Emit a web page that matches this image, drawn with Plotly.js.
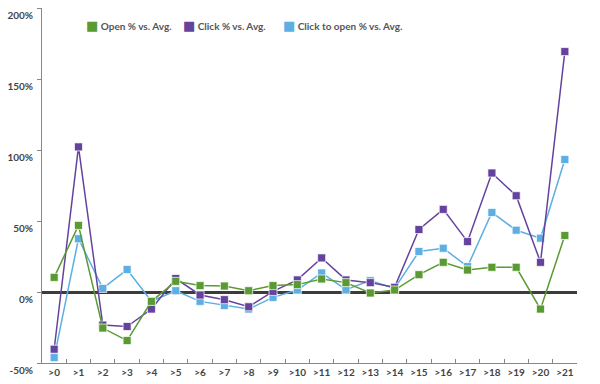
<!DOCTYPE html>
<html>
<head>
<meta charset="utf-8">
<script src="https://cdn.plot.ly/plotly-3.0.1.min.js"></script>
<style>html,body{margin:0;padding:0;background:#fff;}#chart{width:600px;height:384px;}</style>
</head>
<body>
<div id="chart"></div>
<script>
var categories = [">0",">1",">2",">3",">4",">5",">6",">7",">8",">9",">10",">11",">12",">13",">14",">15",">16",">17",">18",">19",">20",">21"];
var openVsAvg = [10.3,46.9,-25.4,-34.2,-6.6,7.5,4.5,4.2,0.9,4.5,5.2,9.2,6.6,-0.7,1.4,12.2,20.9,15.5,17.4,17.4,-12,39.8];
var clickVsAvg = [-40.3,102.2,-23.3,-24.3,-12,9.5,-2.1,-5.4,-10.4,0.4,8.5,24,8.5,6.6,3.3,44,58.2,35.5,83.8,67.8,20.9,169.3];
var ctoVsAvg = [-46.2,37.5,2.5,15.8,-6.5,0.9,-6.6,-9.5,-12,-3.8,1.4,13.4,1.6,8,2.5,28.5,30.8,17.9,56,43.5,37.9,93.3];
var seriesNames = ["Open % vs. Avg.","Click % vs. Avg.","Click to open % vs. Avg."];
var yTickVals = [-50,0,50,100,150,200];
var yTickText = ["-50%","0%","50%","100%","150%","200%"];
var colors = ["#5a9a32","#64439e","#5daee2"];

function lineTrace(y, i){
  return {x: categories, y: y, type:'scatter', mode:'lines+markers', name: seriesNames[i], showlegend:false,
    line:{color:colors[i], width:1.5},
    marker:{symbol:'square', size:8, color:colors[i], line:{color:'rgba(255,255,255,0.7)', width:1}}};
}
var data = [lineTrace(ctoVsAvg,2), lineTrace(clickVsAvg,1), lineTrace(openVsAvg,0)];
var font = {family:'Lato, "Open Sans", sans-serif', size:10, color:'#444', weight:700};
var legendX = [0.0785, 0.2598, 0.4467];
var annotations = seriesNames.map(function(n, i){
  return {xref:'paper', yref:'paper', x:legendX[i], y:0.952, xanchor:'left', yanchor:'middle', showarrow:false,
    text:'<span style="color:'+colors[i]+';font-family:DejaVu Sans;font-size:13px">■</span> '+n,
    font:{family:'Lato, "Open Sans", sans-serif', size:10, color:'#555', weight:700}};
});
var layout = {
  width:600, height:384,
  margin:{l:42, r:23, t:8, b:21, pad:0},
  paper_bgcolor:'#fff', plot_bgcolor:'#fff',
  font: font,
  showlegend:false,
  annotations: annotations,
  xaxis:{type:'category', range:[-0.5,21.5], tickson:'boundaries', ticks:'inside', ticklen:4, tickangle:0,
    tickcolor:'#888', showline:true, linecolor:'#888', linewidth:1, showgrid:false, zeroline:false,
    tickfont:font, fixedrange:true},
  yaxis:{range:[-50,200], tickmode:'array', tickvals:yTickVals, ticktext:yTickText, ticks:'outside', ticklen:4, tickcolor:'#888',
    showline:true, linecolor:'#888', linewidth:1, showgrid:false,
    zeroline:true, zerolinecolor:'#3c3c3c', zerolinewidth:3, ticklabeloverflow:'allow',
    tickfont:font, ticklabelshift:7, ticklabelstandoff:2, fixedrange:true}
};
Plotly.newPlot('chart', data, layout, {displayModeBar:false, staticPlot:true});
</script>
</body>
</html>
